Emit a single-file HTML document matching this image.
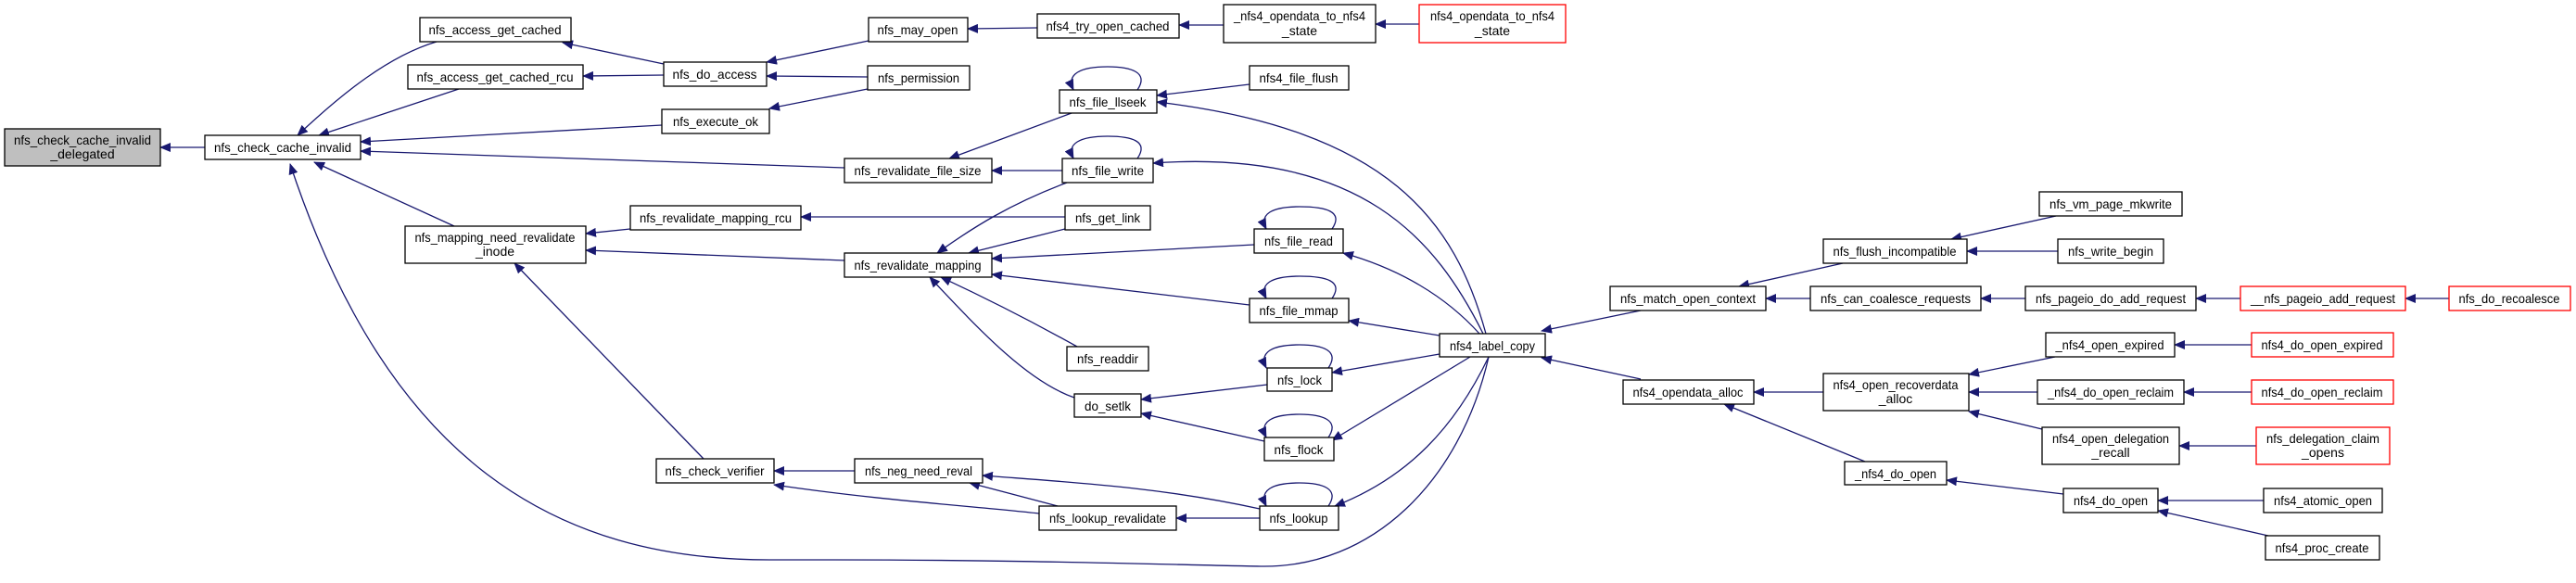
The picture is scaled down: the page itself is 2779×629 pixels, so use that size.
<!DOCTYPE html>
<html><head><meta charset="utf-8"><style>
html,body{margin:0;padding:0;background:#fff;}
svg{display:block;}
text{font-family:"Liberation Sans",sans-serif;font-size:14px;fill:#000;}
</style></head><body>
<svg width="2779" height="629" viewBox="0 0 2779 629" xmlns="http://www.w3.org/2000/svg">
<defs>
<marker id="a" markerWidth="12" markerHeight="10" refX="11" refY="5" orient="auto" markerUnits="userSpaceOnUse">
<path d="M0,0 L12,5 L0,10 Z" fill="#191970"/>
</marker>
</defs>
<g fill="none" stroke="#191970" stroke-width="1.3" marker-end="url(#a)">
<path d="M221,159 L173,159"/>
<path d="M471,45 C420,60 370,100 321,146"/>
<path d="M495,96 L344,146"/>
<path d="M714,135 L389,153"/>
<path d="M911,181 L389,163"/>
<path d="M490,244 L339,175"/>
<path d="M1606,385 C1575,520 1480,613 1360,611 C1250,609 1100,604 900,604 L830,604 C600,604 420,500 313,177"/>
<path d="M716,69 L607,46"/>
<path d="M716,81 L629,82"/>
<path d="M937,44 L827,67"/>
<path d="M936,83 L827,82"/>
<path d="M936,96 L830,117"/>
<path d="M1119,30 L1044,31"/>
<path d="M1320,27 L1272,27"/>
<path d="M1531,26 L1484,26"/>
<path d="M1156,122 L1024,171"/>
<path d="M1146,184 L1070,184"/>
<path d="M1227,97 C1240,78 1220,72 1195,72 C1165,72 1150,80 1158,97"/>
<path d="M1348,91 L1248,103"/>
<path d="M1603,360 C1570,240 1500,140 1248,110"/>
<path d="M1227,171 C1240,152 1220,147 1195,147 C1165,147 1150,155 1158,171"/>
<path d="M1600,360 C1550,260 1470,160 1244,176"/>
<path d="M680,247 L632,252"/>
<path d="M1149,234 L864,234"/>
<path d="M911,281 L632,270"/>
<path d="M1151,197 C1090,220 1050,245 1011,273"/>
<path d="M1149,247 L1045,273"/>
<path d="M1353,264 L1070,279"/>
<path d="M1348,329 L1070,296"/>
<path d="M1162,374 C1110,345 1060,320 1015,299"/>
<path d="M1159,429 C1110,412 1060,360 1003,299"/>
<path d="M1437,247 C1450,228 1430,223 1402,223 C1372,223 1358,231 1366,247"/>
<path d="M1596,360 C1560,320 1510,290 1449,273"/>
<path d="M1437,322 C1450,303 1430,298 1402,298 C1372,298 1358,306 1366,322"/>
<path d="M1553,362 L1455,346"/>
<path d="M1367,415 L1231,431"/>
<path d="M1364,476 L1231,446"/>
<path d="M1433,397 C1446,378 1426,372 1402,372 C1372,372 1358,380 1366,397"/>
<path d="M1433,472 C1446,453 1426,447 1402,447 C1372,447 1358,455 1366,472"/>
<path d="M1433,546 C1446,527 1426,521 1402,521 C1372,521 1358,529 1366,546"/>
<path d="M1553,382 L1437,402"/>
<path d="M1586,385 L1437,475"/>
<path d="M1606,385 C1570,460 1520,515 1440,546"/>
<path d="M922,508 L835,508"/>
<path d="M1121,554 C1050,546 950,540 835,523"/>
<path d="M759,495 L555,284"/>
<path d="M1359,549 C1250,525 1150,520 1060,513"/>
<path d="M1141,546 L1046,521"/>
<path d="M1359,559 L1269,559"/>
<path d="M1770,335 L1663,357"/>
<path d="M1770,409 L1663,386"/>
<path d="M1988,284 L1876,309"/>
<path d="M1953,322 L1905,322"/>
<path d="M2218,233 L2105,258"/>
<path d="M2220,271 L2122,271"/>
<path d="M2185,322 L2137,322"/>
<path d="M2417,322 L2369,322"/>
<path d="M2642,322 L2595,322"/>
<path d="M1967,423 L1892,423"/>
<path d="M2012,498 L1860,436"/>
<path d="M2217,385 L2124,404"/>
<path d="M2198,423 L2124,423"/>
<path d="M2203,463 L2124,444"/>
<path d="M2429,372 L2346,372"/>
<path d="M2429,423 L2356,423"/>
<path d="M2434,481 L2351,481"/>
<path d="M2226,533 L2100,518"/>
<path d="M2442,540 L2328,540"/>
<path d="M2447,578 L2328,551"/>
</g>
<g stroke-width="1.3">
<rect x="5" y="139" width="168" height="40" fill="#bfbfbf" stroke="#000"/>
<text x="89" y="156" text-anchor="middle" textLength="148" lengthAdjust="spacingAndGlyphs">nfs_check_cache_invalid</text>
<text x="89" y="171" text-anchor="middle">_delegated</text>

<rect x="221" y="146" width="168" height="26" fill="#fff" stroke="#000"/>
<text x="305" y="164" text-anchor="middle" textLength="148" lengthAdjust="spacingAndGlyphs">nfs_check_cache_invalid</text>

<rect x="453" y="19" width="163" height="26" fill="#fff" stroke="#000"/>
<text x="534" y="37" text-anchor="middle" textLength="143" lengthAdjust="spacingAndGlyphs">nfs_access_get_cached</text>

<rect x="440" y="70" width="189" height="26" fill="#fff" stroke="#000"/>
<text x="534" y="88" text-anchor="middle" textLength="169" lengthAdjust="spacingAndGlyphs">nfs_access_get_cached_rcu</text>

<rect x="716" y="67" width="111" height="26" fill="#fff" stroke="#000"/>
<text x="771" y="85" text-anchor="middle" textLength="91" lengthAdjust="spacingAndGlyphs">nfs_do_access</text>

<rect x="714" y="118" width="116" height="26" fill="#fff" stroke="#000"/>
<text x="772" y="136" text-anchor="middle" textLength="92" lengthAdjust="spacingAndGlyphs">nfs_execute_ok</text>

<rect x="680" y="222" width="184" height="26" fill="#fff" stroke="#000"/>
<text x="772" y="240" text-anchor="middle" textLength="164" lengthAdjust="spacingAndGlyphs">nfs_revalidate_mapping_rcu</text>

<rect x="437" y="244" width="195" height="40" fill="#fff" stroke="#000"/>
<text x="534" y="261" text-anchor="middle" textLength="173" lengthAdjust="spacingAndGlyphs">nfs_mapping_need_revalidate</text>
<text x="534" y="276" text-anchor="middle">_inode</text>

<rect x="708" y="495" width="127" height="26" fill="#fff" stroke="#000"/>
<text x="771" y="513" text-anchor="middle" textLength="107" lengthAdjust="spacingAndGlyphs">nfs_check_verifier</text>

<rect x="937" y="19" width="107" height="26" fill="#fff" stroke="#000"/>
<text x="990" y="37" text-anchor="middle" textLength="87" lengthAdjust="spacingAndGlyphs">nfs_may_open</text>

<rect x="1119" y="15" width="153" height="26" fill="#fff" stroke="#000"/>
<text x="1195" y="33" text-anchor="middle" textLength="133" lengthAdjust="spacingAndGlyphs">nfs4_try_open_cached</text>

<rect x="1320" y="5" width="164" height="41" fill="#fff" stroke="#000"/>
<text x="1402" y="22" text-anchor="middle" textLength="142" lengthAdjust="spacingAndGlyphs">_nfs4_opendata_to_nfs4</text>
<text x="1402" y="38" text-anchor="middle">_state</text>

<rect x="1531" y="5" width="158" height="41" fill="#fff" stroke="#f00"/>
<text x="1610" y="22" text-anchor="middle" textLength="134" lengthAdjust="spacingAndGlyphs">nfs4_opendata_to_nfs4</text>
<text x="1610" y="38" text-anchor="middle">_state</text>

<rect x="936" y="71" width="110" height="26" fill="#fff" stroke="#000"/>
<text x="991" y="89" text-anchor="middle" textLength="88" lengthAdjust="spacingAndGlyphs">nfs_permission</text>

<rect x="1143" y="97" width="105" height="25" fill="#fff" stroke="#000"/>
<text x="1195" y="115" text-anchor="middle" textLength="83" lengthAdjust="spacingAndGlyphs">nfs_file_llseek</text>

<rect x="1348" y="71" width="107" height="26" fill="#fff" stroke="#000"/>
<text x="1401" y="89" text-anchor="middle" textLength="85" lengthAdjust="spacingAndGlyphs">nfs4_file_flush</text>

<rect x="911" y="171" width="159" height="26" fill="#fff" stroke="#000"/>
<text x="990" y="189" text-anchor="middle" textLength="137" lengthAdjust="spacingAndGlyphs">nfs_revalidate_file_size</text>

<rect x="1146" y="171" width="98" height="26" fill="#fff" stroke="#000"/>
<text x="1195" y="189" text-anchor="middle" textLength="78" lengthAdjust="spacingAndGlyphs">nfs_file_write</text>

<rect x="1149" y="222" width="92" height="26" fill="#fff" stroke="#000"/>
<text x="1195" y="240" text-anchor="middle" textLength="70" lengthAdjust="spacingAndGlyphs">nfs_get_link</text>

<rect x="911" y="273" width="159" height="26" fill="#fff" stroke="#000"/>
<text x="990" y="291" text-anchor="middle" textLength="137" lengthAdjust="spacingAndGlyphs">nfs_revalidate_mapping</text>

<rect x="1353" y="247" width="96" height="26" fill="#fff" stroke="#000"/>
<text x="1401" y="265" text-anchor="middle" textLength="74" lengthAdjust="spacingAndGlyphs">nfs_file_read</text>

<rect x="1348" y="322" width="107" height="26" fill="#fff" stroke="#000"/>
<text x="1401" y="340" text-anchor="middle" textLength="85" lengthAdjust="spacingAndGlyphs">nfs_file_mmap</text>

<rect x="1151" y="374" width="88" height="26" fill="#fff" stroke="#000"/>
<text x="1195" y="392" text-anchor="middle" textLength="66" lengthAdjust="spacingAndGlyphs">nfs_readdir</text>

<rect x="1159" y="425" width="72" height="25" fill="#fff" stroke="#000"/>
<text x="1195" y="443" text-anchor="middle" textLength="50" lengthAdjust="spacingAndGlyphs">do_setlk</text>

<rect x="1367" y="397" width="70" height="25" fill="#fff" stroke="#000"/>
<text x="1402" y="415" text-anchor="middle" textLength="48" lengthAdjust="spacingAndGlyphs">nfs_lock</text>

<rect x="1364" y="472" width="75" height="25" fill="#fff" stroke="#000"/>
<text x="1401" y="490" text-anchor="middle" textLength="53" lengthAdjust="spacingAndGlyphs">nfs_flock</text>

<rect x="1553" y="360" width="114" height="25" fill="#fff" stroke="#000"/>
<text x="1610" y="378" text-anchor="middle" textLength="92" lengthAdjust="spacingAndGlyphs">nfs4_label_copy</text>

<rect x="922" y="495" width="138" height="26" fill="#fff" stroke="#000"/>
<text x="991" y="513" text-anchor="middle" textLength="116" lengthAdjust="spacingAndGlyphs">nfs_neg_need_reval</text>

<rect x="1121" y="546" width="148" height="26" fill="#fff" stroke="#000"/>
<text x="1195" y="564" text-anchor="middle" textLength="126" lengthAdjust="spacingAndGlyphs">nfs_lookup_revalidate</text>

<rect x="1359" y="546" width="85" height="26" fill="#fff" stroke="#000"/>
<text x="1401" y="564" text-anchor="middle" textLength="63" lengthAdjust="spacingAndGlyphs">nfs_lookup</text>

<rect x="1737" y="309" width="168" height="26" fill="#fff" stroke="#000"/>
<text x="1821" y="327" text-anchor="middle" textLength="146" lengthAdjust="spacingAndGlyphs">nfs_match_open_context</text>

<rect x="1751" y="410" width="141" height="26" fill="#fff" stroke="#000"/>
<text x="1821" y="428" text-anchor="middle" textLength="119" lengthAdjust="spacingAndGlyphs">nfs4_opendata_alloc</text>

<rect x="2200" y="207" width="154" height="26" fill="#fff" stroke="#000"/>
<text x="2277" y="225" text-anchor="middle" textLength="132" lengthAdjust="spacingAndGlyphs">nfs_vm_page_mkwrite</text>

<rect x="1967" y="258" width="155" height="26" fill="#fff" stroke="#000"/>
<text x="2044" y="276" text-anchor="middle" textLength="133" lengthAdjust="spacingAndGlyphs">nfs_flush_incompatible</text>

<rect x="2220" y="258" width="114" height="26" fill="#fff" stroke="#000"/>
<text x="2277" y="276" text-anchor="middle" textLength="92" lengthAdjust="spacingAndGlyphs">nfs_write_begin</text>

<rect x="1953" y="309" width="184" height="26" fill="#fff" stroke="#000"/>
<text x="2045" y="327" text-anchor="middle" textLength="162" lengthAdjust="spacingAndGlyphs">nfs_can_coalesce_requests</text>

<rect x="2185" y="309" width="184" height="26" fill="#fff" stroke="#000"/>
<text x="2277" y="327" text-anchor="middle" textLength="162" lengthAdjust="spacingAndGlyphs">nfs_pageio_do_add_request</text>

<rect x="2417" y="309" width="178" height="26" fill="#fff" stroke="#f00"/>
<text x="2506" y="327" text-anchor="middle" textLength="156" lengthAdjust="spacingAndGlyphs">__nfs_pageio_add_request</text>

<rect x="2642" y="309" width="131" height="26" fill="#fff" stroke="#f00"/>
<text x="2707" y="327" text-anchor="middle" textLength="109" lengthAdjust="spacingAndGlyphs">nfs_do_recoalesce</text>

<rect x="2207" y="359" width="139" height="26" fill="#fff" stroke="#000"/>
<text x="2276" y="377" text-anchor="middle" textLength="117" lengthAdjust="spacingAndGlyphs">_nfs4_open_expired</text>

<rect x="2429" y="359" width="153" height="26" fill="#fff" stroke="#f00"/>
<text x="2505" y="377" text-anchor="middle" textLength="131" lengthAdjust="spacingAndGlyphs">nfs4_do_open_expired</text>

<rect x="1967" y="403" width="157" height="40" fill="#fff" stroke="#000"/>
<text x="2045" y="420" text-anchor="middle" textLength="135" lengthAdjust="spacingAndGlyphs">nfs4_open_recoverdata</text>
<text x="2045" y="435" text-anchor="middle">_alloc</text>

<rect x="2198" y="410" width="158" height="26" fill="#fff" stroke="#000"/>
<text x="2277" y="428" text-anchor="middle" textLength="136" lengthAdjust="spacingAndGlyphs">_nfs4_do_open_reclaim</text>

<rect x="2429" y="410" width="153" height="26" fill="#fff" stroke="#f00"/>
<text x="2505" y="428" text-anchor="middle" textLength="131" lengthAdjust="spacingAndGlyphs">nfs4_do_open_reclaim</text>

<rect x="2203" y="461" width="148" height="40" fill="#fff" stroke="#000"/>
<text x="2277" y="478" text-anchor="middle" textLength="126" lengthAdjust="spacingAndGlyphs">nfs4_open_delegation</text>
<text x="2277" y="493" text-anchor="middle">_recall</text>

<rect x="2434" y="461" width="144" height="40" fill="#fff" stroke="#f00"/>
<text x="2506" y="478" text-anchor="middle" textLength="122" lengthAdjust="spacingAndGlyphs">nfs_delegation_claim</text>
<text x="2506" y="493" text-anchor="middle">_opens</text>

<rect x="1990" y="498" width="110" height="25" fill="#fff" stroke="#000"/>
<text x="2045" y="516" text-anchor="middle" textLength="88" lengthAdjust="spacingAndGlyphs">_nfs4_do_open</text>

<rect x="2226" y="527" width="102" height="26" fill="#fff" stroke="#000"/>
<text x="2277" y="545" text-anchor="middle" textLength="80" lengthAdjust="spacingAndGlyphs">nfs4_do_open</text>

<rect x="2442" y="527" width="128" height="26" fill="#fff" stroke="#000"/>
<text x="2506" y="545" text-anchor="middle" textLength="106" lengthAdjust="spacingAndGlyphs">nfs4_atomic_open</text>

<rect x="2444" y="578" width="123" height="26" fill="#fff" stroke="#000"/>
<text x="2505" y="596" text-anchor="middle" textLength="101" lengthAdjust="spacingAndGlyphs">nfs4_proc_create</text>
</g>
</svg>
</body></html>
